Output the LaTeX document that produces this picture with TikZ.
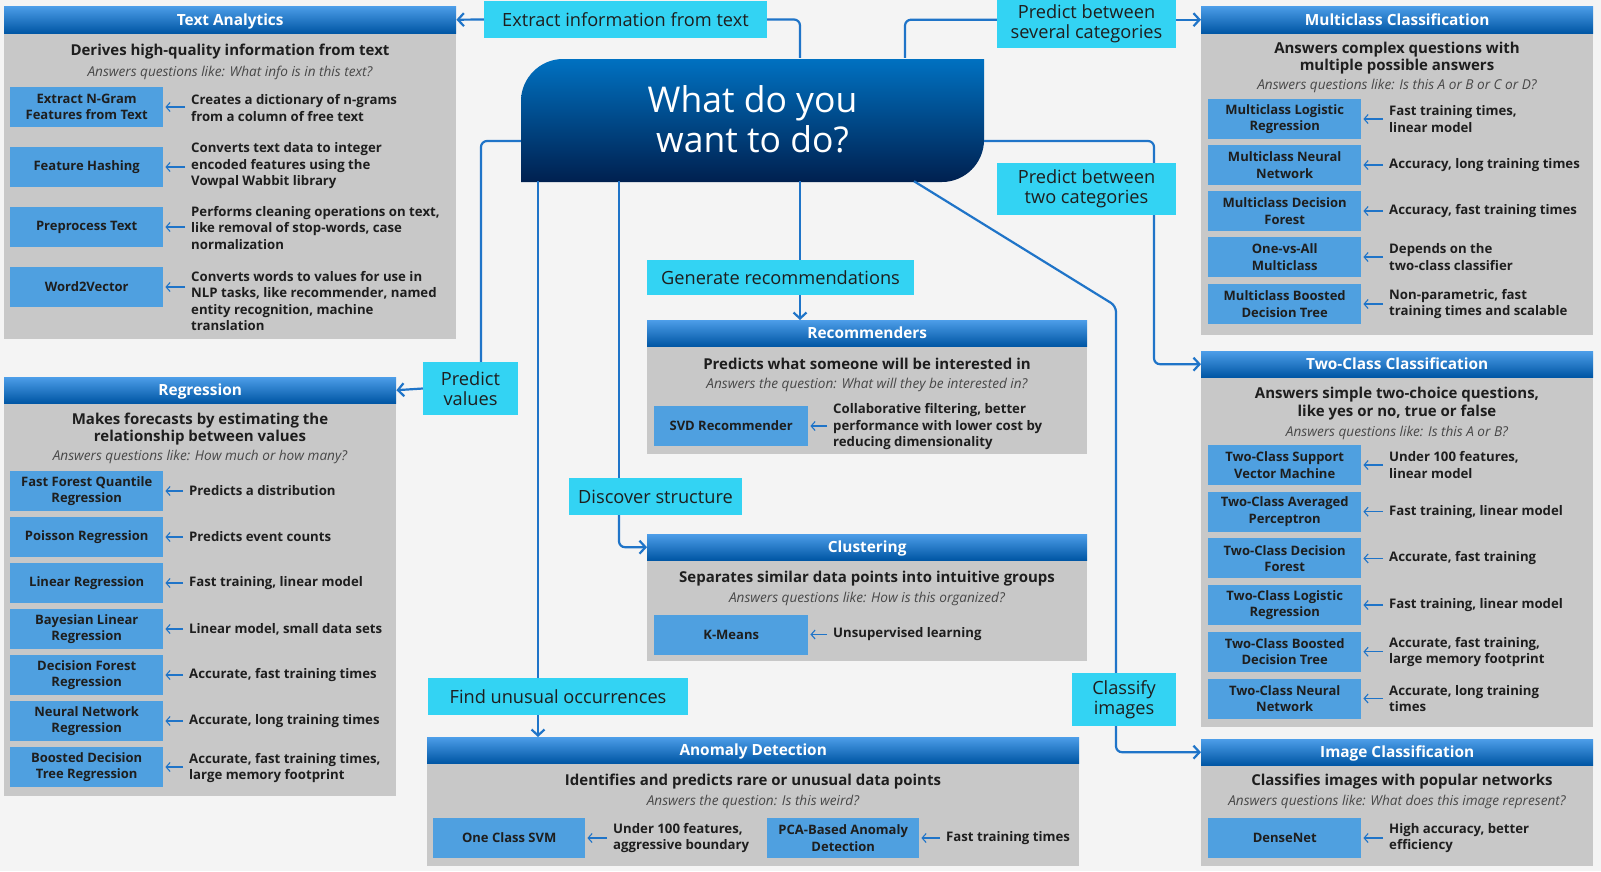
\documentclass[tikz,border=0pt]{standalone}
\usepackage{fontspec}
\setmainfont{Open Sans}
\usetikzlibrary{arrows.meta}

\definecolor{bgc}{HTML}{F4F4F4}
\definecolor{panelc}{HTML}{C8C8C8}
\definecolor{headtop}{HTML}{4C9DE8}
\definecolor{headbot}{HTML}{0056A4}
\definecolor{algoc}{HTML}{4FA0E0}
\definecolor{askc}{HTML}{33D3F3}
\definecolor{linkc}{HTML}{1F74C8}
\definecolor{whattop}{HTML}{0071C1}
\definecolor{whatbot}{HTML}{00204F}
\definecolor{inkc}{HTML}{1E1E1E}
\definecolor{softc}{HTML}{474747}

\tikzset{
  panel/.style={fill=panelc, anchor=north west, inner sep=0},
  phead/.style={top color=headtop, bottom color=headbot, anchor=north west, minimum height=27pt, inner sep=0, text depth=1pt, text=white, font=\fontsize{15.4}{18}\selectfont\bfseries},
  lead/.style={align=center, text=inkc, font=\fontsize{15}{17.5}\selectfont\bfseries},
  quest/.style={text=softc, font=\fontsize{13.6}{16}\selectfont\itshape},
  algo/.style={fill=algoc, anchor=west, minimum width=153pt, minimum height=40pt, inner sep=0, align=center, text=inkc, font=\fontsize{13}{16.5}\selectfont\bfseries},
  note/.style={anchor=west, inner xsep=6pt, inner ysep=0, align=left, text=inkc, font=\fontsize{13.2}{16.5}\selectfont\bfseries},
  choice/.style={fill=askc, inner sep=0, align=center, text=inkc, font=\fontsize{18.2}{19.8}\selectfont},
  link/.style={draw=linkc, line width=2.2pt, rounded corners=6pt},
  tip/.style={-{Straight Barb[length=6pt,width=13pt]}},
  hint/.style={draw=linkc, line width=1.1pt, shorten >=2pt, -{Straight Barb[length=4pt,width=9pt]}},
}

\begin{document}
\begin{tikzpicture}[x=1pt, y=-1pt]
\useasboundingbox (0,0) rectangle (1601,871);
\fill[bgc] (0,0) rectangle (1601,871);

% Central question
\shade[top color=whattop, bottom color=whatbot] (563,59) -- (984,59) -- (984,140) .. controls (984,163) and (965,182) .. (942,182) -- (521,182) -- (521,101) .. controls (521,78) and (540,59) .. (563,59) -- cycle;
\node[minimum width=463pt, minimum height=123pt, inner sep=0, align=center, text=white, font=\fontsize{35.5}{40}\selectfont] (what) at (752.5,119.5) {What do you\\want to do?};

% Text Analytics
\node[panel, minimum width=452pt, minimum height=333pt] (ta) at (4,6) {};
\node[phead, minimum width=452pt] (tah) at (ta.north west) {Text Analytics};
\node[lead] (tal) at (230,52) {Derives high-quality information from text};
\node[quest] (taq) at (230,73) {Answers questions like: What info is in this text?};
\node[algo] (ta1) at (10,107) {Extract N-Gram\\Features from Text};
\node[algo] (ta2) at (10,167) {Feature Hashing};
\node[algo] (ta3) at (10,227) {Preprocess Text};
\node[algo] (ta4) at (10,287) {Word2Vector};
\node[note] (tn1) at (185,108) {Creates a dictionary of n-grams\\from a column of free text};
\node[note] (tn2) at (185,166) {Converts text data to integer\\encoded features using the\\Vowpal Wabbit library};
\node[note] (tn3) at (185,228) {Performs cleaning operations on text,\\like removal of stop-words, case\\normalization};
\node[note] (tn4) at (185,301) {Converts words to values for use in\\NLP tasks, like recommender, named\\entity recognition, machine\\translation};

% Regression
\node[panel, minimum width=392pt, minimum height=419pt] (reg) at (4,377) {};
\node[phead, minimum width=392pt, minimum height=26pt] (regh) at (reg.north west) {Regression};
\node[lead] (regl) at (200,429) {Makes forecasts by estimating the\\relationship between values};
\node[quest] (regq) at (200,457) {Answers questions like: How much or how many?};
\node[algo] (rg1) at (10,491) {Fast Forest Quantile\\Regression};
\node[algo] (rg2) at (10,537) {Poisson Regression};
\node[algo] (rg3) at (10,583) {Linear Regression};
\node[algo] (rg4) at (10,629) {Bayesian Linear\\Regression};
\node[algo] (rg5) at (10,675) {Decision Forest\\Regression};
\node[algo] (rg6) at (10,721) {Neural Network\\Regression};
\node[algo] (rg7) at (10,767) {Boosted Decision\\Tree Regression};
\node[note] (rn1) at (183,491) {Predicts a distribution};
\node[note] (rn2) at (183,537) {Predicts event counts};
\node[note] (rn3) at (183,583) {Fast training, linear model};
\node[note] (rn4) at (183,629) {Linear model, small data sets};
\node[note] (rn5) at (183,675) {Accurate, fast training times};
\node[note] (rn6) at (183,721) {Accurate, long training times};
\node[note] (rn7) at (183,768) {Accurate, fast training times,\\large memory footprint};

% Recommenders
\node[panel, minimum width=440pt, minimum height=134pt] (rec) at (647,320) {};
\node[phead, minimum width=440pt, minimum height=26pt] (rech) at (rec.north west) {Recommenders};
\node[lead] (recl) at (867,364) {Predicts what someone will be interested in};
\node[quest] (recq) at (867,385) {Answers the question: What will they be interested in?};
\node[algo, minimum width=154pt] (rc1) at (654,426) {SVD Recommender};
\node[note] (rcn1) at (827,427) {Collaborative filtering, better\\performance with lower cost by\\reducing dimensionality};

% Clustering
\node[panel, minimum width=440pt, minimum height=127pt] (clu) at (647,534) {};
\node[phead, minimum width=440pt, minimum height=26pt] (cluh) at (clu.north west) {Clustering};
\node[lead] (clul) at (867,579) {Separates similar data points into intuitive groups};
\node[quest] (cluq) at (867,599) {Answers questions like: How is this organized?};
\node[algo, minimum width=154pt] (cl1) at (654,634.5) {K-Means};
\node[note] (cln1) at (827,634.5) {Unsupervised learning};

% Anomaly Detection
\node[panel, minimum width=652pt, minimum height=129pt] (ano) at (427,737) {};
\node[phead, minimum width=652pt, minimum height=26pt] (anoh) at (ano.north west) {Anomaly Detection};
\node[lead] (anol) at (753,782) {Identifies and predicts rare or unusual data points};
\node[quest] (anoq) at (753,802) {Answers the question: Is this weird?};
\node[algo, minimum width=152pt] (an1) at (433,838) {One Class SVM};
\node[algo, minimum width=152pt] (an2) at (767,838) {PCA-Based Anomaly\\Detection};
\node[note] (ann1) at (607,838) {Under 100 features,\\aggressive boundary};
\node[note] (ann2) at (940,838) {Fast training times};

% Multiclass Classification
\node[panel, minimum width=392pt, minimum height=329pt] (mc) at (1201,6) {};
\node[phead, minimum width=392pt] (mch) at (mc.north west) {Multiclass Classification};
\node[lead] (mcl) at (1397,58) {Answers complex questions with\\multiple possible answers};
\node[quest] (mcq) at (1397,86) {Answers questions like: Is this A or B or C or D?};
\node[algo] (mc1) at (1208,119) {Multiclass Logistic\\Regression};
\node[algo] (mc2) at (1208,165) {Multiclass Neural\\Network};
\node[algo] (mc3) at (1208,211) {Multiclass Decision\\Forest};
\node[algo] (mc4) at (1208,257) {One-vs-All\\Multiclass};
\node[algo] (mc5) at (1208,304) {Multiclass Boosted\\Decision Tree};
\node[note] (mn1) at (1383,119) {Fast training times,\\linear model};
\node[note] (mn2) at (1383,165) {Accuracy, long training times};
\node[note] (mn3) at (1383,211) {Accuracy, fast training times};
\node[note] (mn4) at (1383,257) {Depends on the\\two-class classifier};
\node[note] (mn5) at (1383,304) {Non-parametric, fast\\training times and scalable};

% Two-Class Classification
\node[panel, minimum width=392pt, minimum height=376pt] (tc) at (1201,351) {};
\node[phead, minimum width=392pt, minimum height=26pt] (tch) at (tc.north west) {Two-Class Classification};
\node[lead] (tcl) at (1397,403.5) {Answers simple two-choice questions,\\like yes or no, true or false};
\node[quest] (tcq) at (1397,433) {Answers questions like: Is this A or B?};
\node[algo] (tc1) at (1208,465) {Two-Class Support\\Vector Machine};
\node[algo] (tc2) at (1208,511.7) {Two-Class Averaged\\Perceptron};
\node[algo] (tc3) at (1208,558.4) {Two-Class Decision\\Forest};
\node[algo] (tc4) at (1208,605) {Two-Class Logistic\\Regression};
\node[algo] (tc5) at (1208,651.8) {Two-Class Boosted\\Decision Tree};
\node[algo] (tc6) at (1208,698.5) {Two-Class Neural\\Network};
\node[note] (tn5) at (1383,465) {Under 100 features,\\linear model};
\node[note] (tn6) at (1383,511.7) {Fast training, linear model};
\node[note] (tn7) at (1383,558.4) {Accurate, fast training};
\node[note] (tn8) at (1383,605) {Fast training, linear model};
\node[note] (tn9) at (1383,651.8) {Accurate, fast training,\\large memory footprint};
\node[note] (tn10) at (1383,698.5) {Accurate, long training\\times};

% Image Classification
\node[panel, minimum width=392pt, minimum height=127pt] (img) at (1201,739) {};
\node[phead, minimum width=392pt, minimum height=26pt] (imgh) at (img.north west) {Image Classification};
\node[lead] (imgl) at (1402,782) {Classifies images with popular networks};
\node[quest] (imgq) at (1397,802) {Answers questions like: What does this image represent?};
\node[algo] (im1) at (1208,838) {DenseNet};
\node[note] (imn1) at (1383,838) {High accuracy, better\\efficiency};

% Choices
\node[choice, minimum width=283pt, minimum height=37pt] (ext) at (625.5,19.5) {Extract information from text};
\node[choice, minimum width=179pt, minimum height=48pt] (sev) at (1086.5,24) {Predict between\\several categories};
\node[choice, minimum width=179pt, minimum height=52pt] (two) at (1086.5,189) {Predict between\\two categories};
\node[choice, minimum width=267pt, minimum height=35pt] (gen) at (780.5,277.5) {Generate recommendations};
\node[choice, minimum width=173pt, minimum height=37pt] (dis) at (655.5,496.5) {Discover structure};
\node[choice, minimum width=260pt, minimum height=37pt] (fin) at (558,696.5) {Find unusual occurrences};
\node[choice, minimum width=95pt, minimum height=53pt] (pv) at (470.5,388.5) {Predict\\values};
\node[choice, minimum width=104pt, minimum height=53pt] (cls) at (1124,699.5) {Classify\\images};

% Routes
\coordinate (kExt) at (800,19.5);
\coordinate (kSev) at (905,19.5);
\coordinate (kTwo) at (1154,141);
\coordinate (kGen) at (800,0);
\coordinate (kDis) at (619,0);
\coordinate (kFin) at (538,0);
\coordinate (kPv) at (481,141);
\coordinate (kDiag) at (914,0);
\coordinate (kCls) at (1116,306);
\draw[link] (what.north -| kExt) |- (ext.east);
\draw[link, tip] (ext.west) -- (tah.east);
\draw[link] (what.north -| kSev) |- (sev.west |- mch.east);
\draw[link, tip] (sev.east |- mch.west) -- (mch.west);
\draw[link] (what.east |- kTwo) -| (two.north -| kTwo);
\draw[link, tip] (two.south -| kTwo) |- (tch.west);
\draw[link] (what.south -| kGen) -- (gen.north -| kGen);
\draw[link, tip] (gen.south -| kGen) -- (rech.north -| kGen);
\draw[link] (what.south -| kDis) -- (dis.north -| kDis);
\draw[link, tip] (dis.south -| kDis) |- (cluh.west);
\draw[link] (what.south -| kFin) -- (fin.north -| kFin);
\draw[link, tip] (fin.south -| kFin) -- (anoh.north -| kFin);
\draw[link] (what.west |- kPv) -| (pv.north -| kPv);
\draw[link, tip] (pv.west) -- (regh.east);
\draw[link] (what.south -| kDiag) -- (kCls) -- (cls.north -| kCls);
\draw[link, tip] (cls.south -| kCls) |- (imgh.west);

% Hints
\draw[hint] (tn1.west |- ta1) -- (ta1.east);
\draw[hint] (tn2.west |- ta2) -- (ta2.east);
\draw[hint] (tn3.west |- ta3) -- (ta3.east);
\draw[hint] (tn4.west |- ta4) -- (ta4.east);
\draw[hint] (rn1.west |- rg1) -- (rg1.east);
\draw[hint] (rn2.west |- rg2) -- (rg2.east);
\draw[hint] (rn3.west |- rg3) -- (rg3.east);
\draw[hint] (rn4.west |- rg4) -- (rg4.east);
\draw[hint] (rn5.west |- rg5) -- (rg5.east);
\draw[hint] (rn6.west |- rg6) -- (rg6.east);
\draw[hint] (rn7.west |- rg7) -- (rg7.east);
\draw[hint] (rcn1.west |- rc1) -- (rc1.east);
\draw[hint] (cln1.west |- cl1) -- (cl1.east);
\draw[hint] (ann1.west |- an1) -- (an1.east);
\draw[hint] (ann2.west |- an2) -- (an2.east);
\draw[hint] (mn1.west |- mc1) -- (mc1.east);
\draw[hint] (mn2.west |- mc2) -- (mc2.east);
\draw[hint] (mn3.west |- mc3) -- (mc3.east);
\draw[hint] (mn4.west |- mc4) -- (mc4.east);
\draw[hint] (mn5.west |- mc5) -- (mc5.east);
\draw[hint] (tn5.west |- tc1) -- (tc1.east);
\draw[hint] (tn6.west |- tc2) -- (tc2.east);
\draw[hint] (tn7.west |- tc3) -- (tc3.east);
\draw[hint] (tn8.west |- tc4) -- (tc4.east);
\draw[hint] (tn9.west |- tc5) -- (tc5.east);
\draw[hint] (tn10.west |- tc6) -- (tc6.east);
\draw[hint] (imn1.west |- im1) -- (im1.east);
\end{tikzpicture}
\end{document}
